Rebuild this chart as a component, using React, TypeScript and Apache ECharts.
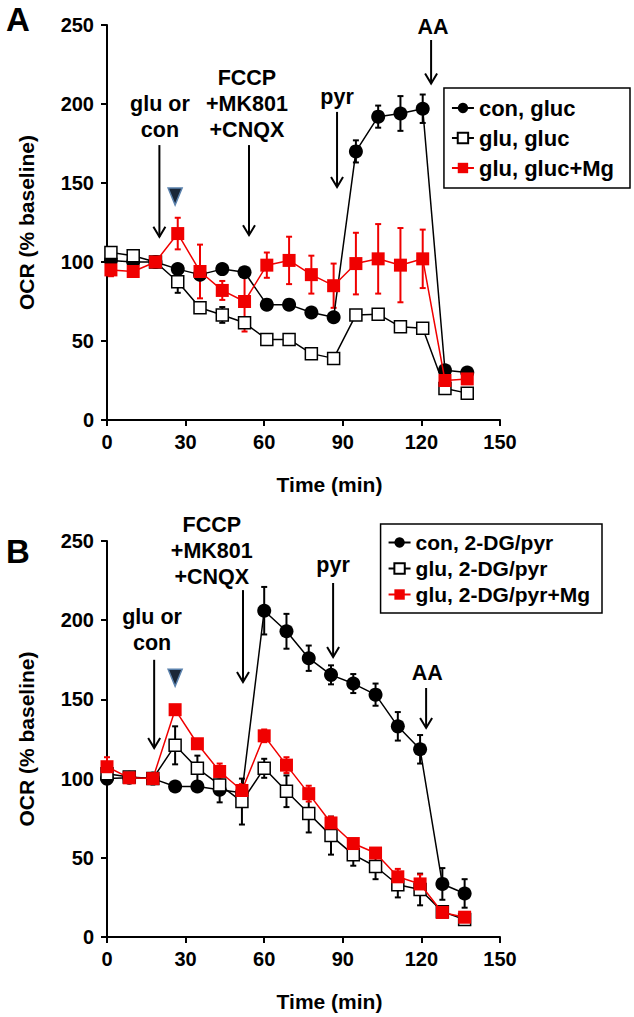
import React, { useEffect, useRef } from "react";
import * as echarts from "echarts";

// ---------- Data ----------
const xTicks = [0, 30, 60, 90, 120, 150];
const yTicks = [0, 50, 100, 150, 200, 250];

// Panel A (glucose)
const timesA = [1.5, 10, 18.5, 27, 35.5, 44, 52.5, 61, 69.5, 78, 86.5, 95, 103.5, 112, 120.5, 129, 137.5];
const conGluc = [101, 100, 100, 95.5, 92, 95.5, 93.5, 73, 73, 68, 65, 170, 192, 194, 197, 31.5, 30];
const conGlucErr = [2, 2, 0, 2, 3, 2, 2, 3, 2, 2, 2, 7, 7, 11, 9, 3, 3];
const gluGluc = [106, 104, 100, 87.5, 71, 66.5, 61.5, 51, 51, 42, 39, 66.5, 67, 59, 58, 20, 17];
const gluGlucErr = [2, 2, 0, 7, 3, 5, 2, 2, 2, 2, 2, 2, 2, 2, 2, 2, 2];
const gluGlucMg = [95, 94, 100, 118, 94, 82, 75, 98, 101, 92, 85, 99, 102, 98, 102, 25, 26];
const gluGlucMgErr = [4, 3, 0, 10, 17, 6, 19, 8, 15, 12, 14, 19.5, 22, 23.5, 18.5, 3, 3];

// Panel B (2-DG/pyr)
const timesB = [0, 8.5, 17.5, 26, 34.5, 43, 51.5, 60, 68.5, 77, 85.5, 94, 102.5, 111, 119.5, 128, 136.5];
const conDG = [100, 100.5, 100, 95, 95, 93, 91, 206, 193, 176, 165.5, 160, 153, 133, 118.5, 33.5, 27.5];
const conDGErr = [3, 1, 0, 2, 2, 2, 3, 15, 11, 8, 6, 6, 7, 9, 9, 10, 9];
const gluDG = [103, 101, 100, 121, 106.5, 96, 85.5, 106.5, 92, 78, 64, 52, 44.5, 33, 30, 16, 11];
const gluDGErr = [3, 2, 0, 12, 8, 11, 14.5, 6, 10, 12, 12, 7, 8, 8, 10, 3, 3];
const gluDGMg = [107.5, 100.5, 100, 143.5, 122, 104.5, 92.5, 127, 108.5, 90.5, 72, 59, 53, 38, 33.5, 15.5, 12.5];
const gluDGMgErr = [6, 2, 0, 3, 3, 5, 4, 4, 5, 5, 4, 3, 3, 5, 6, 3, 3];

const namesA = ["con, gluc", "glu, gluc", "glu, gluc+Mg"];
const namesB = ["con, 2-DG/pyr", "glu, 2-DG/pyr", "glu, 2-DG/pyr+Mg"];

// Annotations (data units): arrow time, text-center time, first text line value, arrow from/to values
const annotationsA = [
  { lines: ["glu or", "con"], x: 20, tx: 20.2, ty: 200, from: 174, to: 116 },
  { lines: ["FCCP", "+MK801", "+CNQX"], x: 54.2, tx: 53.4, ty: 216.5, from: 174, to: 117 },
  { lines: ["pyr"], x: 87.8, tx: 87.8, ty: 204.4, from: 195, to: 147.5 },
  { lines: ["AA"], x: 123.7, tx: 124.4, ty: 248.7, from: 240.5, to: 213 },
];
const triangleA = [26, 141.8];
const annotationsB = [
  { lines: ["glu or", "con"], x: 18, tx: 17.2, ty: 202, from: 175, to: 119.3 },
  { lines: ["FCCP", "+MK801", "+CNQX"], x: 51.9, tx: 40, ty: 260, from: 219, to: 161 },
  { lines: ["pyr"], x: 86.3, tx: 86.3, ty: 234.8, from: 223.5, to: 176.8 },
  { lines: ["AA"], x: 121.8, tx: 122.2, ty: 166.7, from: 157.2, to: 132 },
];
const triangleB = [26, 164];

// ---------- Styles ----------
const FONT = '"Liberation Sans", Arial, sans-serif';
const RED = "#f00000";

function pairs(t: number[], v: number[]) {
  return t.map((x, i) => [x, v[i]]);
}

function lineSeries(name: string, t: number[], v: number[], kind: "circle" | "open" | "red", idx: number) {
  const base: any = {
    type: "line",
    name,
    xAxisIndex: idx,
    yAxisIndex: idx,
    data: pairs(t, v),
    z: 3,
  };
  if (kind === "circle") {
    base.symbol = "circle";
    base.symbolSize = 14;
    base.itemStyle = { color: "#000" };
    base.lineStyle = { color: "#000", width: 1.5 };
  } else if (kind === "open") {
    base.symbol = "rect";
    base.symbolSize = 12;
    base.itemStyle = { color: "#fff", borderColor: "#000", borderWidth: 1.5 };
    base.lineStyle = { color: "#000", width: 1.5 };
    base.z = 4;
  } else {
    base.symbol = "rect";
    base.symbolSize = 13;
    base.itemStyle = { color: RED };
    base.lineStyle = { color: RED, width: 1.5 };
    base.z = 5;
  }
  return base;
}

function errSeries(t: number[], v: number[], e: number[], color: string, idx: number) {
  return {
    type: "custom",
    xAxisIndex: idx,
    yAxisIndex: idx,
    silent: true,
    z: 2,
    encode: { x: 0, y: [1, 2] },
    data: t.map((x, i) => [x, v[i] - e[i], v[i] + e[i]]),
    renderItem: (params: any, api: any) => {
      const lo = api.coord([api.value(0), api.value(1)]);
      const hi = api.coord([api.value(0), api.value(2)]);
      const w = 3;
      const st = { stroke: color, lineWidth: 2 };
      return {
        type: "group",
        children: [
          { type: "line", shape: { x1: lo[0], y1: lo[1], x2: hi[0], y2: hi[1] }, style: st },
          { type: "line", shape: { x1: lo[0] - w, y1: lo[1], x2: lo[0] + w, y2: lo[1] }, style: st },
          { type: "line", shape: { x1: hi[0] - w, y1: hi[1], x2: hi[0] + w, y2: hi[1] }, style: st },
        ],
      };
    },
  };
}

function xAxis(gridIndex: number) {
  return {
    type: "value",
    gridIndex,
    min: xTicks[0],
    max: xTicks[xTicks.length - 1],
    interval: 30,
    name: "Time (min)",
    nameLocation: "middle",
    nameGap: 54,
    nameTextStyle: { fontSize: 21, fontWeight: "bold", color: "#000", fontFamily: FONT, padding: [0, 0, 0, 52] },
    axisLine: { show: true, lineStyle: { color: "#000", width: 2 } },
    axisTick: { show: true, length: 6, lineStyle: { color: "#000", width: 2 } },
    axisLabel: { margin: 12, fontSize: 20, fontWeight: "bold", color: "#000", fontFamily: FONT },
    splitLine: { show: false },
  };
}

function yAxis(gridIndex: number) {
  return {
    type: "value",
    gridIndex,
    min: yTicks[0],
    max: yTicks[yTicks.length - 1],
    interval: 50,
    name: "OCR (% baseline)",
    nameLocation: "middle",
    nameGap: 70,
    nameRotate: 90,
    nameTextStyle: { fontSize: 21, fontWeight: "bold", color: "#000", fontFamily: FONT },
    axisLine: { show: true, lineStyle: { color: "#000", width: 2 } },
    axisTick: { show: true, length: 6, lineStyle: { color: "#000", width: 2 } },
    axisLabel: { margin: 13, fontSize: 20, fontWeight: "bold", color: "#000", fontFamily: FONT },
    splitLine: { show: false },
  };
}

function legend(names: string[], right: number, top: number, gap: number, padding: number[], size: number) {
  return {
    data: names,
    right,
    top,
    orient: "vertical",
    itemWidth: 22,
    itemHeight: 13,
    itemGap: gap,
    padding,
    borderColor: "#000",
    borderWidth: 1.5,
    selectedMode: false,
    textStyle: { fontSize: size, fontWeight: "bold", color: "#000", fontFamily: FONT },
  };
}

export default function App() {
  const ref = useRef<HTMLDivElement>(null);

  useEffect(() => {
    document.body.style.margin = "0";
    const chart = echarts.init(ref.current!, null, { renderer: "svg" });
    const option: any = {
      animation: false,
      backgroundColor: "#fff",
      grid: [
        { left: 107, top: 25, width: 393, height: 395 },
        { left: 107, top: 541, width: 393, height: 396 },
      ],
      xAxis: [xAxis(0), xAxis(1)],
      yAxis: [yAxis(0), yAxis(1)],
      legend: [
        legend(namesA, 4, 88, 8, [9, 16, 9, 7], 22),
        legend(namesB, 32, 524, 5, [8, 12, 8, 7], 21),
      ],
      series: [
        errSeries(timesA, conGluc, conGlucErr, "#000", 0),
        errSeries(timesA, gluGluc, gluGlucErr, "#000", 0),
        errSeries(timesA, gluGlucMg, gluGlucMgErr, RED, 0),
        lineSeries(namesA[0], timesA, conGluc, "circle", 0),
        lineSeries(namesA[1], timesA, gluGluc, "open", 0),
        lineSeries(namesA[2], timesA, gluGlucMg, "red", 0),
        errSeries(timesB, conDG, conDGErr, "#000", 1),
        errSeries(timesB, gluDG, gluDGErr, "#000", 1),
        errSeries(timesB, gluDGMg, gluDGMgErr, RED, 1),
        lineSeries(namesB[0], timesB, conDG, "circle", 1),
        lineSeries(namesB[1], timesB, gluDG, "open", 1),
        lineSeries(namesB[2], timesB, gluDGMg, "red", 1),
      ],
    };
    chart.setOption(option);

    const elements: any[] = [];
    const textStyle = (text: string, x: number, y: number, size = 21.5) => ({
      type: "text",
      style: {
        text,
        x,
        y,
        align: "center",
        verticalAlign: "middle",
        fontSize: size,
        fontWeight: "bold",
        fontFamily: FONT,
        fill: "#000",
      },
      z: 10,
    });
    const addAnn = (g: number, anns: any[], tri: number[]) => {
      anns.forEach((a) => {
        const tp = chart.convertToPixel({ gridIndex: g } as any, [a.tx, a.ty]) as number[];
        a.lines.forEach((ln: string, i: number) => elements.push(textStyle(ln, tp[0], tp[1] + i * 26)));
        const p1 = chart.convertToPixel({ gridIndex: g } as any, [a.x, a.from]) as number[];
        const p2 = chart.convertToPixel({ gridIndex: g } as any, [a.x, a.to]) as number[];
        elements.push({
          type: "line",
          shape: { x1: p1[0], y1: p1[1], x2: p2[0], y2: p2[1] },
          style: { stroke: "#000", lineWidth: 2 },
          z: 10,
        });
        elements.push({
          type: "polyline",
          shape: { points: [[p2[0] - 6, p2[1] - 10], [p2[0], p2[1]], [p2[0] + 6, p2[1] - 10]] },
          style: { stroke: "#000", lineWidth: 2, fill: null },
          z: 10,
        });
      });
      const tp = chart.convertToPixel({ gridIndex: g } as any, tri) as number[];
      elements.push({
        type: "polygon",
        shape: { points: [[tp[0] - 7, tp[1] - 8], [tp[0] + 7, tp[1] - 8], [tp[0], tp[1] + 9]] },
        style: { fill: "#1a2738", stroke: "#5b82ad", lineWidth: 1.5 },
        z: 10,
      });
    };
    addAnn(0, annotationsA, triangleA);
    addAnn(1, annotationsB, triangleB);
    elements.push({
      type: "text",
      style: { text: "A", x: 6, y: 3, fontSize: 33, fontWeight: "bold", fontFamily: FONT, fill: "#000" },
      z: 10,
    });
    elements.push({
      type: "text",
      style: { text: "B", x: 6, y: 535, fontSize: 33, fontWeight: "bold", fontFamily: FONT, fill: "#000" },
      z: 10,
    });
    chart.setOption({ graphic: elements });

    return () => chart.dispose();
  }, []);

  return <div ref={ref} style={{ width: 634, height: 1017 }} />;
}
